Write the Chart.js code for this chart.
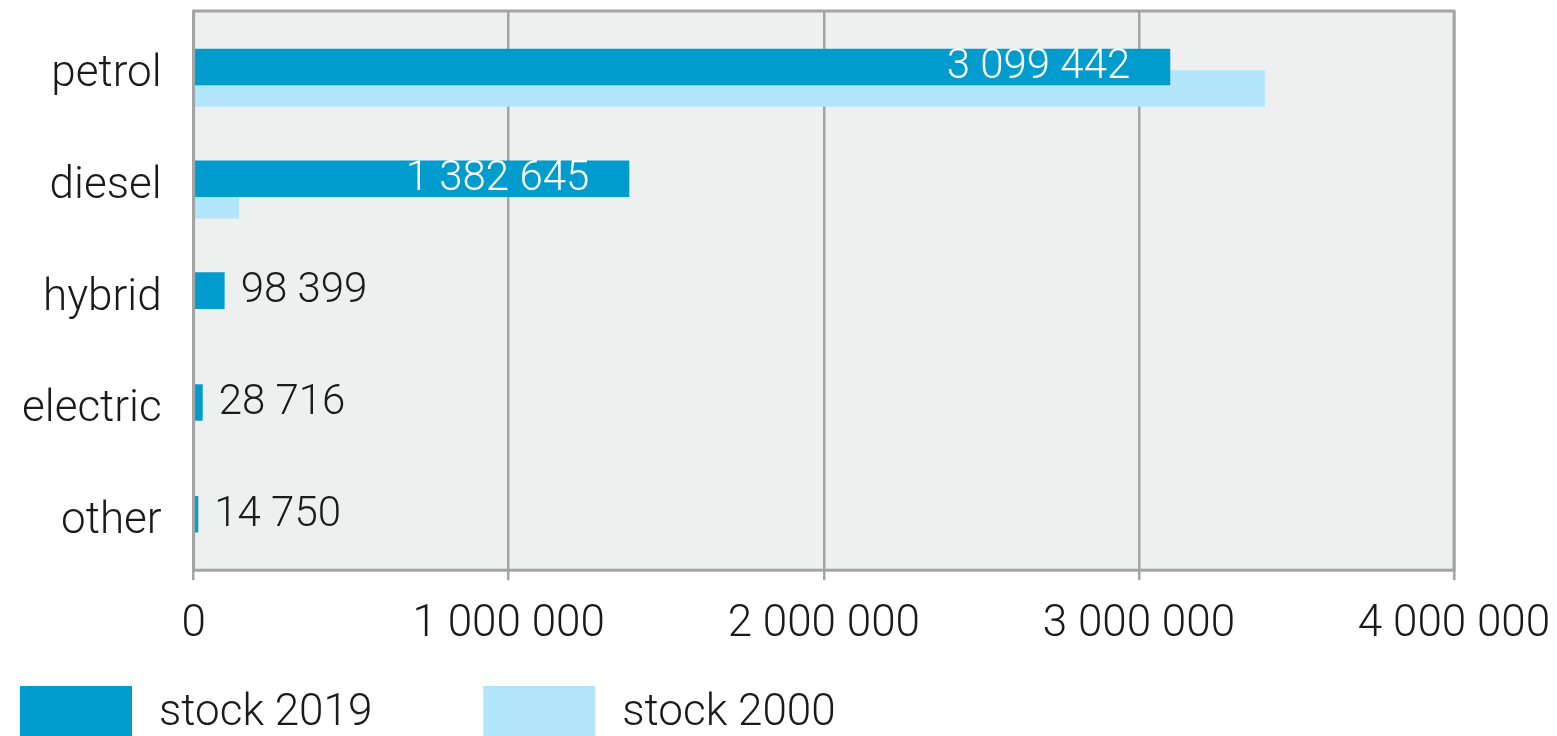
<!DOCTYPE html>
<html>
<head>
<meta charset="utf-8">
<script src="https://cdn.jsdelivr.net/npm/chart.js@4.4.0/dist/chart.umd.min.js"></script>
<style>
    html, body { margin: 0; padding: 0; background: #ffffff; }
    #grafico { width: 1557px; height: 736px; }
</style>
</head>
<body>
<div id="grafico"><canvas id="barras_estoque"></canvas></div>
<script>
var categorias = ['petrol', 'diesel', 'hybrid', 'electric', 'other'];
var estoque2019 = [3099442, 1382645, 98399, 28716, 14750];
var estoque2000 = [3400000, 144000, 0, 0, 0];
var nomesSeries = ['stock 2019', 'stock 2000'];
var ticksX = [0, 1000000, 2000000, 3000000, 4000000];

var corEscura = '#009ccd';
var corClara = '#b2e5fa';
var corGrade = '#a4a4a4';
var corTexto = '#1a1a1a';

function formatar(n) {
    return String(n).replace(/\B(?=(\d{3})+(?!\d))/g, ' ');
}

Chart.defaults.font.family = 'Roboto';
Chart.defaults.font.size = 44;
Chart.defaults.font.weight = '300';
Chart.defaults.color = corTexto;

// fundo cinza e moldura da area do grafico
const moldura = {
    id: 'moldura',
    beforeDraw(chart) {
        const a = chart.chartArea;
        const ctx = chart.ctx;
        ctx.save();
        ctx.fillStyle = '#eef0ef';
        ctx.fillRect(a.left, a.top, a.right - a.left, a.bottom - a.top);
        ctx.restore();
    },
    afterDatasetsDraw(chart) {
        const a = chart.chartArea;
        const ctx = chart.ctx;
        ctx.save();
        ctx.strokeStyle = corGrade;
        ctx.lineWidth = 3;
        ctx.strokeRect(a.left, a.top, a.right - a.left, a.bottom - a.top);
        ctx.restore();
    }
};

// valores escritos nas barras de 2019
const rotulosValores = {
    id: 'rotulosValores',
    afterDatasetsDraw(chart) {
        const ctx = chart.ctx;
        const meta = chart.getDatasetMeta(1);
        ctx.save();
        ctx.font = '300 42px Roboto';
        ctx.textBaseline = 'middle';
        meta.data.forEach(function (barra, i) {
            const texto = formatar(estoque2019[i]);
            const largura = ctx.measureText(texto).width;
            if (barra.x - barra.base > largura + 80) {
                ctx.fillStyle = '#ffffff';
                ctx.textAlign = 'right';
                ctx.fillText(texto, barra.x - 40, barra.y + 1);
            } else {
                ctx.fillStyle = corTexto;
                ctx.textAlign = 'left';
                ctx.fillText(texto, barra.x + 16, barra.y + 1);
            }
        });
        ctx.restore();
    }
};

// legenda embaixo, caixas grandes
const legendaBaixo = {
    id: 'legendaBaixo',
    afterDraw(chart, args, opts) {
        const ctx = chart.ctx;
        const cores = [corEscura, corClara];
        let x = opts.x;
        const y = chart.height - opts.distBaixo;
        ctx.save();
        ctx.font = '300 44px Roboto';
        ctx.textBaseline = 'middle';
        ctx.textAlign = 'left';
        nomesSeries.forEach(function (nome, i) {
            ctx.fillStyle = cores[i];
            ctx.fillRect(x, y, opts.caixaL, opts.caixaA);
            x += opts.caixaL + opts.espaco;
            ctx.fillStyle = corTexto;
            ctx.fillText(nome, x, y + opts.caixaA / 2 + 2);
            x += ctx.measureText(nome).width + opts.entreItens;
        });
        ctx.restore();
    }
};

const dados = {
    labels: categorias,
    datasets: [
        {
            // espacador vazio para empurrar as duas series para baixo no grupo
            label: '',
            data: categorias.map(function () { return null; }),
            backgroundColor: 'rgba(0,0,0,0)'
        },
        {
            label: nomesSeries[0],
            data: estoque2019,
            backgroundColor: corEscura
        },
        {
            label: nomesSeries[1],
            data: estoque2000,
            backgroundColor: corClara
        }
    ]
};

const config = {
    type: 'bar',
    data: dados,
    plugins: [moldura, rotulosValores, legendaBaixo],
    options: {
        indexAxis: 'y',
        responsive: true,
        maintainAspectRatio: false,
        animation: false,
        datasets: {
            bar: {
                categoryPercentage: 0.577,
                barPercentage: 1.7
            }
        },
        layout: {
            padding: { top: 11, left: 22, right: 103, bottom: 67 }
        },
        plugins: {
            legend: { display: false },
            tooltip: { enabled: false },
            legendaBaixo: {
                x: 20, distBaixo: 50, caixaL: 112, caixaA: 52, espaco: 27, entreItens: 111
            }
        },
        scales: {
            x: {
                type: 'linear',
                min: ticksX[0],
                max: ticksX[ticksX.length - 1],
                afterBuildTicks: function (escala) {
                    escala.ticks = ticksX.map(function (v) { return { value: v }; });
                },
                afterFit: function (escala) {
                    escala.paddingLeft = 0;
                    escala.paddingRight = 0;
                },
                ticks: {
                    padding: 18,
                    maxRotation: 0,
                    callback: function (v) { return formatar(v); }
                },
                grid: {
                    color: corGrade,
                    lineWidth: 2.5,
                    tickLength: 10
                },
                border: { display: false }
            },
            y: {
                type: 'category',
                afterFit: function (escala) {
                    escala.paddingTop = 0;
                    escala.paddingBottom = 0;
                },
                ticks: { padding: 0, labelOffset: 8 },
                grid: { display: false, drawTicks: true, tickLength: 32 },
                border: { display: false }
            }
        }
    }
};

new Chart(document.getElementById('barras_estoque'), config);
</script>
</body>
</html>
